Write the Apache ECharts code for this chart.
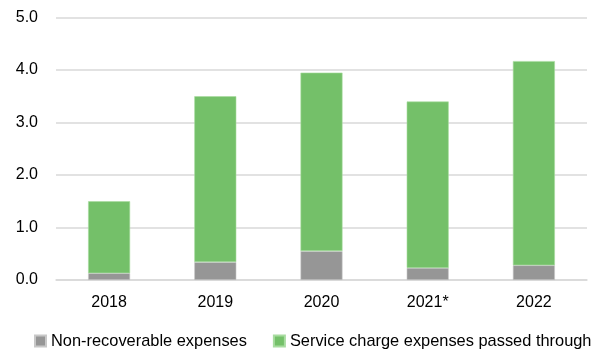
<!DOCTYPE html>
<html>
<head>
<meta charset="utf-8">
<script src="https://cdn.jsdelivr.net/npm/echarts@6/dist/echarts.min.js"></script>
<style>
  html, body { margin: 0; padding: 0; background: #fff; }
  #chart { width: 611px; height: 353px; }
</style>
</head>
<body>
<div id="chart"></div>
<script>
// Expense breakdown per year (stacked)
const categories = ['2018', '2019', '2020', '2021*', '2022'];
const nonRecoverable = [0.13, 0.34, 0.55, 0.23, 0.28];
const passedThrough = [1.37, 3.16, 3.40, 3.17, 3.89];
const yTicks = [0, 1, 2, 3, 4, 5];

const font = 'Liberation Sans, Arial, sans-serif';
const chart = echarts.init(document.getElementById('chart'), null, { renderer: 'canvas' });

chart.setOption({
  animation: false,
  textStyle: { fontFamily: font },
  grid: { left: 56, right: 24, top: 17.5, bottom: 73, containLabel: false },
  legend: {
    top: 333,
    left: 34,
    padding: 0,
    itemWidth: 11,
    itemHeight: 11,
    itemGap: 26,
    icon: 'rect',
    textStyle: { fontSize: 16.4, color: '#000', fontFamily: font },
    data: ['Non-recoverable expenses', 'Service charge expenses passed through']
  },
  xAxis: {
    type: 'category',
    data: categories,
    axisLine: { lineStyle: { color: '#d9d9d9', width: 1.5 } },
    axisTick: { show: false },
    axisLabel: { fontSize: 16, color: '#000', margin: 15, fontFamily: font }
  },
  yAxis: {
    type: 'value',
    min: yTicks[0],
    max: yTicks[yTicks.length - 1],
    interval: 1,
    axisLine: { show: false },
    axisTick: { show: false },
    axisLabel: {
      fontSize: 16, color: '#000', margin: 18, fontFamily: font,
      formatter: v => v.toFixed(1)
    },
    splitLine: { lineStyle: { color: '#d9d9d9', width: 1.5 } }
  },
  series: [
    {
      name: 'Non-recoverable expenses',
      type: 'bar',
      stack: 'total',
      barWidth: 42,
      data: nonRecoverable,
      itemStyle: { color: '#969696', borderColor: '#c8c8c8', borderWidth: 0.6 }
    },
    {
      name: 'Service charge expenses passed through',
      type: 'bar',
      stack: 'total',
      barWidth: 42,
      data: passedThrough,
      itemStyle: { color: '#74c069', borderColor: '#a8dca0', borderWidth: 0.6 }
    }
  ]
});
</script>
</body>
</html>
